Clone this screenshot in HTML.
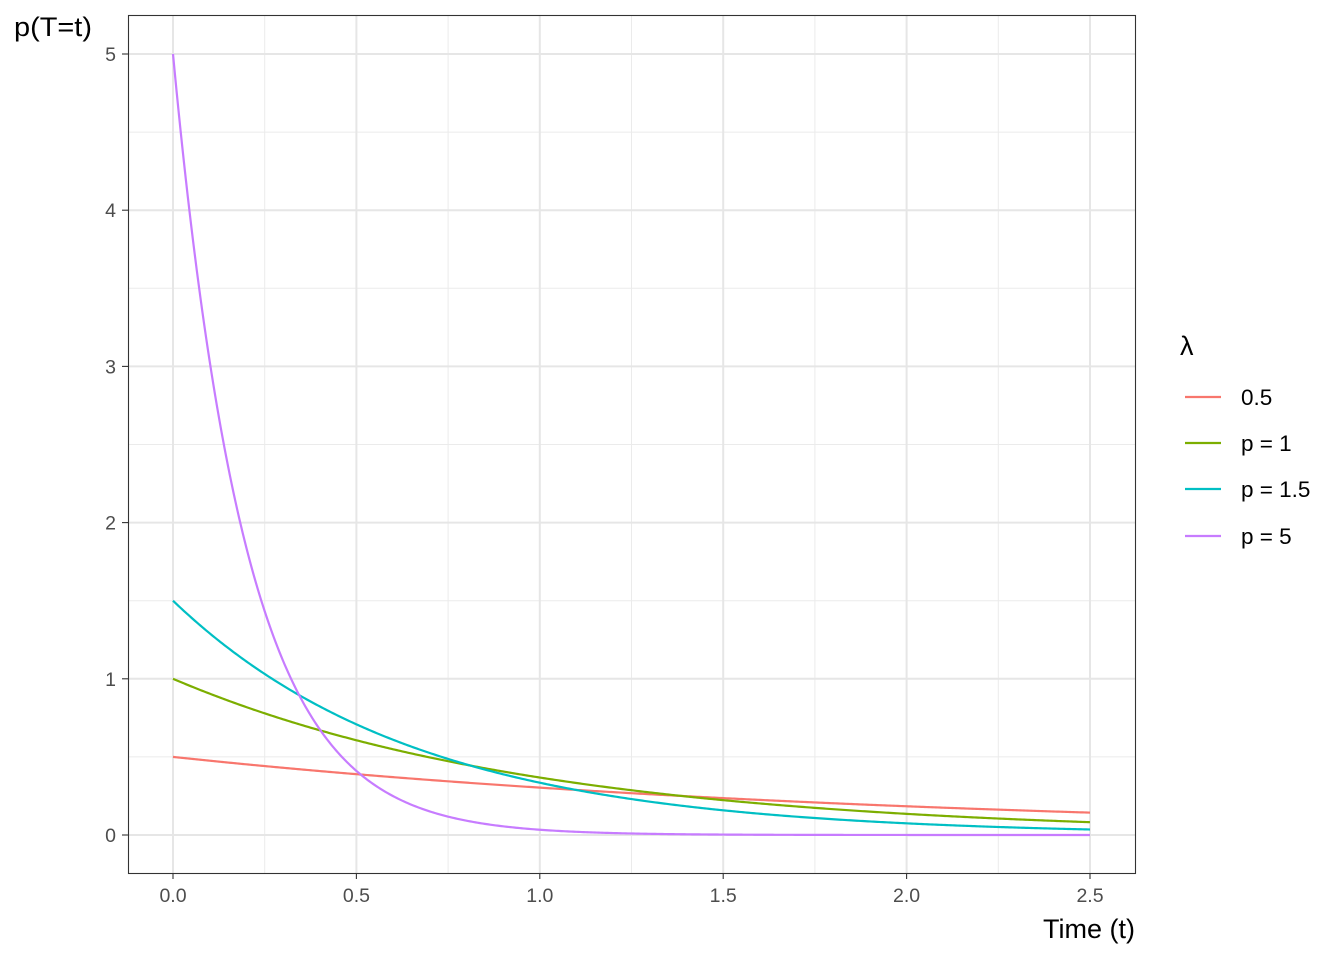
<!DOCTYPE html>
<html><head><meta charset="utf-8"><style>
body{margin:0;background:#fff;}
svg text{font-family:"Liberation Sans",sans-serif;}
</style></head><body>
<svg id="s" width="1344" height="960" xmlns="http://www.w3.org/2000/svg">
<rect width="1344" height="960" fill="#fff"/>
<g id="grid"></g>
<g id="curves"></g>
<rect x="128.5" y="15.5" width="1007" height="858" fill="none" stroke="#333" stroke-width="1.1"/>
<g id="ticks" font-size="19.5" fill="#4D4D4D"></g>
<text x="14" y="36" font-size="26.5" fill="#000" textLength="78" lengthAdjust="spacingAndGlyphs">p(T=t)</text>
<text x="1135" y="938" font-size="27" fill="#000" text-anchor="end">Time (t)</text>
<text x="1180" y="355" font-size="27" fill="#000">λ</text>
<g font-size="22.5" fill="#000">
<line x1="1185" x2="1221" y1="397" y2="397" stroke="#F8766D" stroke-width="2.2"/><text x="1241" y="405">0.5</text>
<line x1="1185" x2="1221" y1="443" y2="443" stroke="#7CAE00" stroke-width="2.2"/><text x="1241" y="451">p = 1</text>
<line x1="1185" x2="1221" y1="489" y2="489" stroke="#00BFC4" stroke-width="2.2"/><text x="1241" y="497">p = 1.5</text>
<line x1="1185" x2="1221" y1="536" y2="536" stroke="#C77CFF" stroke-width="2.2"/><text x="1241" y="544">p = 5</text>
</g>
</svg>
<script>
var NS="http://www.w3.org/2000/svg";
function X(t){return 173+t*366.8;}
function Y(v){return 835-v*156.2;}
function el(p,tag,a,txt){var e=document.createElementNS(NS,tag);for(var k in a)e.setAttribute(k,a[k]);if(txt!=null)e.textContent=txt;document.getElementById(p).appendChild(e);return e;}
for(var i=0;i<=10;i++){var t=i*0.25;if(i%2==1)el("grid","line",{x1:X(t),x2:X(t),y1:15,y2:873,stroke:"#EBEBEB","stroke-width":1});}
for(var i=0;i<=10;i++){var v=i*0.5;if(i%2==1)el("grid","line",{x1:128,x2:1135,y1:Y(v),y2:Y(v),stroke:"#EBEBEB","stroke-width":1});}
for(var i=0;i<=5;i++){var t=i*0.5;el("grid","line",{x1:X(t),x2:X(t),y1:15,y2:873,stroke:"#E6E6E6","stroke-width":2});
el("ticks","line",{x1:X(t),x2:X(t),y1:873,y2:879,stroke:"#333","stroke-width":1.1});
el("ticks","text",{x:X(t),y:902,"text-anchor":"middle"},t.toFixed(1));}
for(var v=0;v<=5;v++){el("grid","line",{x1:128,x2:1135,y1:Y(v),y2:Y(v),stroke:"#E6E6E6","stroke-width":2});
el("ticks","line",{x1:122,x2:128,y1:Y(v),y2:Y(v),stroke:"#333","stroke-width":1.1});
el("ticks","text",{x:116,y:Y(v)+7,"text-anchor":"end"},String(v));}
var L=[[0.5,"#F8766D"],[1,"#7CAE00"],[1.5,"#00BFC4"],[5,"#C77CFF"]];
L.forEach(function(c){var d="";for(var i=0;i<=500;i++){var t=2.5*i/500;d+=(i?"L":"M")+X(t).toFixed(2)+","+Y(c[0]*Math.exp(-c[0]*t)).toFixed(2);}
el("curves","path",{d:d,fill:"none",stroke:c[1],"stroke-width":2.2});});
</script>
</body></html>
